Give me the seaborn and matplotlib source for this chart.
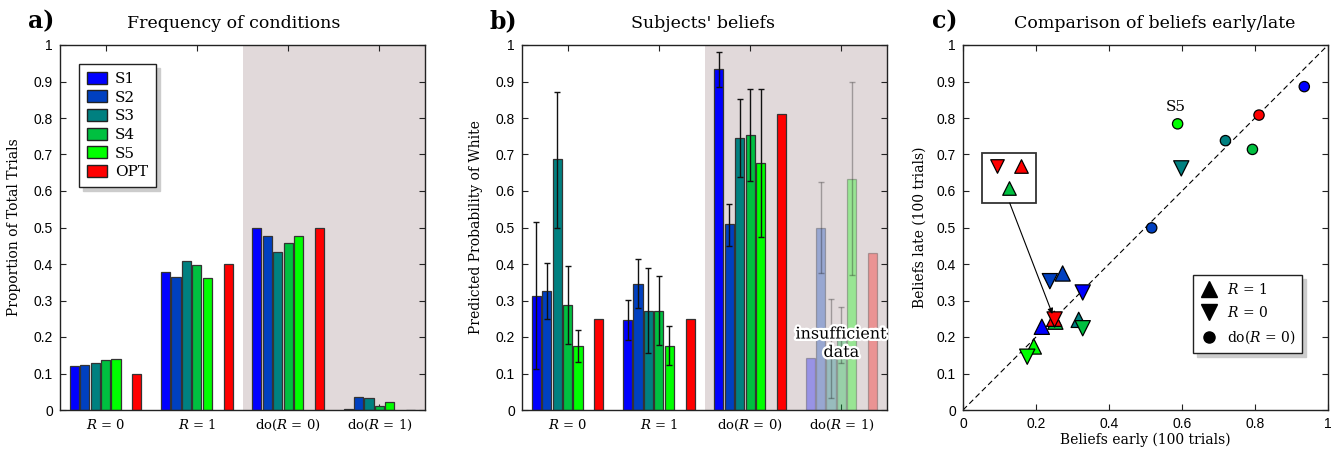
import numpy as np
import pandas as pd
import matplotlib
matplotlib.use("Agg")
import matplotlib.pyplot as plt
import matplotlib.patheffects as pe
from matplotlib.patches import Patch, Rectangle
from matplotlib.lines import Line2D
from matplotlib.container import BarContainer
import seaborn as sns

#
# DATA
#

conditions = ["$R$ = 0", "$R$ = 1", "do($R$ = 0)", "do($R$ = 1)"]
series = ["S1", "S2", "S3", "S4", "S5", "OPT"]

# a) frequency of conditions
freq_S1 = [0.120, 0.377, 0.500, 0.004]
freq_S2 = [0.123, 0.365, 0.478, 0.036]
freq_S3 = [0.128, 0.407, 0.432, 0.033]
freq_S4 = [0.136, 0.397, 0.457, 0.011]
freq_S5 = [0.141, 0.363, 0.478, 0.021]
freq_OPT = [0.100, 0.400, 0.500, 0.000]

# b) subjects' beliefs (+ lower / upper error bounds)
belief_S1 = [0.313, 0.247, 0.933, 0.142]
belief_S2 = [0.326, 0.346, 0.509, 0.500]
belief_S3 = [0.687, 0.272, 0.745, 0.170]
belief_S4 = [0.287, 0.272, 0.753, 0.200]
belief_S5 = [0.175, 0.176, 0.678, 0.634]
belief_OPT = [0.250, 0.250, 0.810, 0.429]

low_S1 = [0.111, 0.191, 0.884, np.nan]
high_S1 = [0.515, 0.301, 0.982, np.nan]
low_S2 = [0.249, 0.280, 0.450, 0.376]
high_S2 = [0.402, 0.413, 0.565, 0.626]
low_S3 = [0.500, 0.155, 0.639, 0.032]
high_S3 = [0.872, 0.388, 0.851, 0.303]
low_S4 = [0.180, 0.177, 0.627, 0.128]
high_S4 = [0.395, 0.368, 0.879, 0.281]
low_S5 = [0.131, 0.122, 0.473, 0.370]
high_S5 = [0.219, 0.229, 0.879, 0.900]
low_OPT = [np.nan, np.nan, np.nan, np.nan]
high_OPT = [np.nan, np.nan, np.nan, np.nan]

# c) early vs late beliefs, per condition (order = series)
early_R1 = [0.216, 0.273, 0.317, 0.253, 0.194, 0.250]
late_R1 = [0.228, 0.374, 0.247, 0.242, 0.174, 0.250]
early_R0 = [0.328, 0.238, 0.598, 0.328, 0.176, 0.251]
late_R0 = [0.322, 0.353, 0.662, 0.224, 0.146, 0.248]
early_do = [0.935, 0.517, 0.719, 0.793, 0.588, 0.811]
late_do = [0.886, 0.499, 0.738, 0.714, 0.784, 0.808]

# zoomed inset of the crowded spot around (0.25, 0.25)
inset_series = ["OPT", "OPT", "S4"]
inset_marker = ["v", "^", "^"]
inset_x = [0.093, 0.159, 0.126]
inset_y = [0.669, 0.669, 0.607]

colors = {"S1": "#0000ff", "S2": "#0040c0", "S3": "#008080",
          "S4": "#00c040", "S5": "#00ff00", "OPT": "#ff0000", "gap": "white"}

#
# STYLE
#

sns.set_theme(style="white")
plt.rcParams["font.family"] = ["DejaVu Serif"]
plt.rcParams["mathtext.fontset"] = "dejavuserif"
plt.rcParams["axes.edgecolor"] = "#222222"
plt.rcParams["axes.linewidth"] = 1.0
for key in ["text.color", "axes.labelcolor", "xtick.color", "ytick.color", "axes.titlecolor"]:
  plt.rcParams[key] = "black"

shade = "#e1d9da"
tick_font = "Liberation Sans"
shadow_props = {"color": "0.8", "alpha": 1, "ox": 3, "oy": -3}

W, H = 1343, 453
fig = plt.figure(figsize=(W / 100, H / 100), dpi=100)

def add_ax(left_px):
  return fig.add_axes([left_px / W, 43 / H, 365 / W, 365 / H])

ax_a = add_ax(60)
ax_b = add_ax(522)
ax_c = add_ax(963)

def to_long(vals):
  rows = []
  for s, v in zip(series, vals):
    for c, y in zip(conditions, v):
      rows.append({"condition": c, "series": s, "value": y})
  return pd.DataFrame(rows)

hue_order = ["S1", "S2", "S3", "S4", "S5", "gap", "OPT"]
ytick_labels = ["0"] + [f"{t:.1f}" for t in np.arange(0.1, 0.95, 0.1)] + ["1"]

def style_bar_axes(ax, ylabel):
  ax.set_xlim(-0.5, 3.5)
  ax.set_ylim(0, 1)
  ax.axvspan(1.5, 3.5, color=shade, zorder=0, lw=0)
  ax.set_yticks(np.arange(0, 1.01, 0.1))
  ax.set_yticklabels(ytick_labels)
  ax.tick_params(direction="in", top=True, right=True, length=4, width=0.8,
                 color="#222222", bottom=True, left=True)
  ax.tick_params(axis="x", labelsize=9.5, pad=6)
  ax.tick_params(axis="y", labelsize=10, pad=5)
  for lbl in ax.get_yticklabels():
    lbl.set_fontfamily(tick_font)
  ax.set_xlabel("")
  ax.set_ylabel(ylabel, fontsize=10, labelpad=9)

def bars_by_series(ax):
  conts = [c for c in ax.containers if isinstance(c, BarContainer) and len(c) > 0]
  conts.sort(key=lambda c: c[0].get_x())
  return dict(zip(series, conts))

#
# a) Frequency of conditions
#

df_a = to_long([freq_S1, freq_S2, freq_S3, freq_S4, freq_S5, freq_OPT])
sns.barplot(data=df_a, x="condition", y="value", hue="series", hue_order=hue_order,
            order=conditions, palette=colors, width=0.8, gap=0.12, errorbar=None,
            edgecolor="#333333", linewidth=0.9, legend=False, saturation=1, ax=ax_a, zorder=2)
style_bar_axes(ax_a, "Proportion of Total Trials")
ax_a.set_title("Frequency of conditions", fontsize=12.5, pad=12, x=0.475)

handles = [Patch(facecolor=colors[s], edgecolor="#222222", lw=1) for s in series]
ax_a.legend(handles, series, loc="upper left", bbox_to_anchor=(0.052, 0.948),
            borderaxespad=0, fontsize=11, handlelength=1.35, handleheight=0.85,
            labelspacing=0.28, handletextpad=0.5, borderpad=0.5,
            fancybox=False, framealpha=1, edgecolor="#222222", shadow=shadow_props)

#
# b) Subjects' beliefs
#

df_b = to_long([belief_S1, belief_S2, belief_S3, belief_S4, belief_S5, belief_OPT])
sns.barplot(data=df_b, x="condition", y="value", hue="series", hue_order=hue_order,
            order=conditions, palette=colors, width=0.8, gap=0.12, errorbar=None,
            edgecolor="#333333", linewidth=0.9, legend=False, saturation=1, ax=ax_b, zorder=2)
style_bar_axes(ax_b, "Predicted Probability of White")
ax_b.set_title("Subjects' beliefs", fontsize=12.5, pad=12, x=0.495)

lows = [low_S1, low_S2, low_S3, low_S4, low_S5, low_OPT]
highs = [high_S1, high_S2, high_S3, high_S4, high_S5, high_OPT]
faded = 0.32
bar_map = bars_by_series(ax_b)
for s, lo, hi in zip(series, lows, highs):
  cont = bar_map[s]
  for j, p in enumerate(cont):
    alpha = faded if j == 3 else 1.0
    if j == 3:
      p.set_alpha(faded)
    if np.isnan(lo[j]):
      continue
    xc = p.get_x() + p.get_width() / 2
    yv = p.get_height()
    ax_b.errorbar(xc, yv, yerr=[[yv - lo[j]], [hi[j] - yv]], fmt="none",
                  ecolor="#111111", elinewidth=1, capsize=2.5, capthick=1,
                  alpha=alpha, zorder=3)

ax_b.text(3, 0.183, "insufficient\ndata", ha="center", va="center", fontsize=11.5,
          linespacing=1.1, zorder=5,
          path_effects=[pe.withStroke(linewidth=3.5, foreground="white")])

#
# c) Comparison of beliefs early/late
#

ax_c.set_xlim(0, 1)
ax_c.set_ylim(0, 1)
ax_c.axline((0, 0), slope=1, color="black", lw=0.8, ls=(0, (5, 3)), zorder=1)

for m, sz, ex, la in [("^", 120, early_R1, late_R1),
                      ("v", 120, early_R0, late_R0),
                      ("o", 55, early_do, late_do)]:
  df_c = pd.DataFrame({"early": ex, "late": la, "series": series})
  sns.scatterplot(data=df_c, x="early", y="late", hue="series", palette=colors,
                  marker=m, s=sz, edgecolor="black", linewidth=0.9, legend=False,
                  ax=ax_c, zorder=3)

ax_c.add_patch(Rectangle((0.052, 0.568), 0.149, 0.137, facecolor="white",
                         edgecolor="#333333", lw=1.3, zorder=4))
for s, m, xi, yi in zip(inset_series, inset_marker, inset_x, inset_y):
  ax_c.scatter([xi], [yi], marker=m, s=95, color=colors[s], edgecolor="black",
               linewidth=0.9, zorder=5)
ax_c.annotate("", xy=(0.245, 0.263), xytext=(0.128, 0.567),
              arrowprops=dict(arrowstyle="-|>", lw=0.8, color="black",
                              mutation_scale=8, shrinkA=0, shrinkB=0), zorder=6)

ax_c.text(0.584, 0.831, "S5", ha="center", va="center", fontsize=11)

ax_c.set_xticks(np.arange(0, 1.01, 0.2))
ax_c.set_xticklabels(["0", "0.2", "0.4", "0.6", "0.8", "1"])
ax_c.set_yticks(np.arange(0, 1.01, 0.1))
ax_c.set_yticklabels(ytick_labels)
ax_c.tick_params(direction="in", top=True, right=True, bottom=True, left=True,
                 length=4, width=0.8, color="#222222", labelsize=10, pad=5)
for lbl in ax_c.get_xticklabels() + ax_c.get_yticklabels():
  lbl.set_fontfamily(tick_font)
ax_c.set_xlabel("Beliefs early (100 trials)", fontsize=10, labelpad=1)
ax_c.set_ylabel("Beliefs late (100 trials)", fontsize=10, labelpad=7)
ax_c.set_title("Comparison of beliefs early/late", fontsize=12.5, pad=12, x=0.525)

leg_handles = [Line2D([], [], marker="^", ls="", color="black", markersize=11),
               Line2D([], [], marker="v", ls="", color="black", markersize=11),
               Line2D([], [], marker="o", ls="", color="black", markersize=8)]
ax_c.legend(leg_handles, ["$R$ = 1", "$R$ = 0", "do($R$ = 0)"],
            loc="upper left", bbox_to_anchor=(0.631, 0.370), borderaxespad=0,
            fontsize=10, handlelength=1.2, handletextpad=0.7, labelspacing=0.6,
            borderpad=0.5, fancybox=False, framealpha=1, edgecolor="#222222",
            shadow=shadow_props)

# panel letters
fig.text(28 / W, 1 - 28 / H, "a)", fontsize=17, fontweight="bold")
fig.text(490 / W, 1 - 28 / H, "b)", fontsize=17, fontweight="bold")
fig.text(932 / W, 1 - 28 / H, "c)", fontsize=17, fontweight="bold")

fig.savefig("out.png", dpi=100)
